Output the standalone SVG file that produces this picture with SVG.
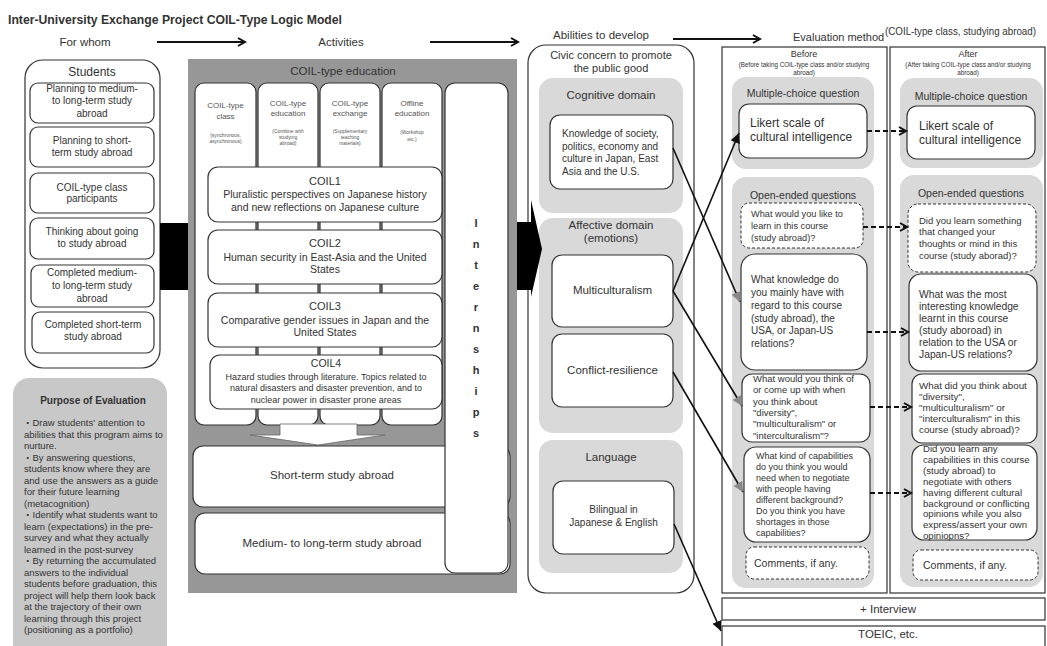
<svg xmlns="http://www.w3.org/2000/svg" width="1047" height="646" viewBox="0 0 1047 646">
<defs>
<style>
text{font-family:"Liberation Sans","Noto Sans CJK JP",sans-serif;fill:#333}
.c{text-anchor:middle}
.box{fill:#fff;stroke:#333;stroke-width:1.2}
.dbox{fill:#fff;stroke:#333;stroke-width:1;stroke-dasharray:3 2}
.lg{fill:#d9d9d9}
.col{font-size:8px;fill:#555}
.sm{font-size:4.9px;fill:#555}
.ct{font-size:11px}
.cb{font-size:10.5px}
.conn{stroke:#111;stroke-width:1.6;fill:none}
.dash{stroke:#111;stroke-width:2;fill:none;stroke-dasharray:5 3}
.top{stroke:#111;stroke-width:2;fill:none}
</style>
<marker id="chev" markerUnits="userSpaceOnUse" markerWidth="12" markerHeight="12" refX="8" refY="5" orient="auto">
<path d="M1,1 L8,5 L1,9" fill="none" stroke="#111" stroke-width="2"/>
</marker>
<marker id="tri" markerUnits="userSpaceOnUse" markerWidth="12" markerHeight="12" refX="10" refY="5" orient="auto">
<path d="M0,0 L10,5 L0,10 z" fill="#111"/>
</marker>
<marker id="trig" markerUnits="userSpaceOnUse" markerWidth="12" markerHeight="12" refX="10" refY="5" orient="auto">
<path d="M0,0 L10,5 L0,10 z" fill="#888"/>
</marker>
</defs>
<rect width="1047" height="646" fill="#fff"/>

<g id="headers">
<text x="8" y="24" font-size="13" font-weight="bold" fill="#222" textLength="334" lengthAdjust="spacingAndGlyphs">Inter-University Exchange Project COIL-Type Logic Model</text>
<text x="85" y="46" class="c" font-size="11.5">For whom</text>
<text x="341" y="46" class="c" font-size="11.5">Activities</text>
<text x="601" y="39" class="c" font-size="11.5">Abilities to develop</text>
<text x="793" y="41" font-size="11">Evaluation method</text>
<text x="885" y="35" font-size="10.5" textLength="151" lengthAdjust="spacingAndGlyphs">(COIL-type class, studying abroad)</text>
</g>

<g id="students">
<rect x="25" y="60" width="135" height="308" rx="18" class="box"/>
<text x="92" y="76" class="c" font-size="12">Students</text>
<rect x="30" y="83" width="124" height="40" rx="8" class="box"/>
<text class="c" font-size="10"><tspan x="92" y="92">Planning to medium-</tspan><tspan x="92" y="104">to long-term study</tspan><tspan x="92" y="117">abroad</tspan></text>
<rect x="30" y="127" width="124" height="40" rx="8" class="box"/>
<text class="c" font-size="10"><tspan x="92" y="144">Planning to short-</tspan><tspan x="92" y="156">term study abroad</tspan></text>
<rect x="30" y="173" width="124" height="40" rx="8" class="box"/>
<text class="c" font-size="10"><tspan x="92" y="190.5">COIL-type class</tspan><tspan x="92" y="202">participants</tspan></text>
<rect x="30" y="218" width="124" height="41" rx="8" class="box"/>
<text class="c" font-size="10"><tspan x="92" y="235">Thinking about going</tspan><tspan x="92" y="247">to study abroad</tspan></text>
<rect x="31" y="265" width="123" height="42" rx="8" class="box"/>
<text class="c" font-size="10"><tspan x="92" y="276">Completed medium-</tspan><tspan x="92" y="289">to long-term study</tspan><tspan x="92" y="302">abroad</tspan></text>
<rect x="32" y="312" width="122" height="41" rx="8" class="box"/>
<text class="c" font-size="10"><tspan x="93" y="328">Completed short-term</tspan><tspan x="93" y="340">study abroad</tspan></text>
</g>

<g id="purpose">
<rect x="13" y="378" width="154" height="290" rx="16" fill="#c8c8c8"/>
<text x="93" y="404" class="c" font-size="10" font-weight="bold" fill="#222">Purpose of Evaluation</text>
<text font-size="9.5" fill="#444">
<tspan x="23" y="426">・Draw students' attention to</tspan>
<tspan x="24" y="437.5">abilities that this program aims to</tspan>
<tspan x="24" y="449">nurture.</tspan>
<tspan x="23" y="460.5">・By answering questions,</tspan>
<tspan x="24" y="472">students know where they are</tspan>
<tspan x="24" y="483.5">and use the answers as a guide</tspan>
<tspan x="24" y="495">for their future learning</tspan>
<tspan x="24" y="506.5">(metacognition)</tspan>
<tspan x="23" y="518">・Identify what students want to</tspan>
<tspan x="24" y="529.5">learn (expectations) in the pre-</tspan>
<tspan x="24" y="541">survey and what they actually</tspan>
<tspan x="24" y="552.5">learned in the post-survey</tspan>
<tspan x="23" y="564">・By returning the accumulated</tspan>
<tspan x="24" y="575.5">answers to the individual</tspan>
<tspan x="24" y="587">students before graduation, this</tspan>
<tspan x="24" y="598.5">project will help them look back</tspan>
<tspan x="24" y="610">at the trajectory of their own</tspan>
<tspan x="24" y="621.5">learning through this project</tspan>
<tspan x="24" y="633">(positioning as a portfolio)</tspan>
</text>
</g>

<g id="arrow-in">
<rect x="160" y="223" width="30" height="67" fill="#000"/>
</g>

<g id="coil-education">
<rect x="188" y="59" width="329" height="534" fill="#979797"/>
<text x="343" y="75" class="c" font-size="11.5" fill="#222">COIL-type education</text>
<rect x="195" y="83" width="61" height="342" rx="9" class="box"/>
<rect x="258" y="83" width="60" height="342" rx="9" class="box"/>
<rect x="320" y="83" width="60" height="342" rx="9" class="box"/>
<rect x="382" y="83" width="60" height="342" rx="9" class="box"/>
<text class="c col"><tspan x="225.5" y="108">COIL-type</tspan><tspan x="225.5" y="119">class</tspan></text>
<text class="c sm"><tspan x="225.5" y="137">(synchronous,</tspan><tspan x="225.5" y="142.5">asynchronous)</tspan></text>
<text class="c col"><tspan x="288" y="106">COIL-type</tspan><tspan x="288" y="116">education</tspan></text>
<text class="c sm"><tspan x="288" y="133">(Combine with</tspan><tspan x="288" y="139">studying</tspan><tspan x="288" y="145">abroad)</tspan></text>
<text class="c col"><tspan x="350" y="106">COIL-type</tspan><tspan x="350" y="116">exchange</tspan></text>
<text class="c sm"><tspan x="350" y="133">(Supplementary</tspan><tspan x="350" y="139">teaching</tspan><tspan x="350" y="145">materials)</tspan></text>
<text class="c col"><tspan x="412" y="106">Offline</tspan><tspan x="412" y="116">education</tspan></text>
<text class="c sm" font-size="5.8"><tspan x="412" y="134">(Workshop</tspan><tspan x="412" y="141">etc.)</tspan></text>
</g>

<g id="coil1">
<rect x="208" y="167" width="234" height="55" rx="10" class="box"/>
<text x="325" y="185" class="c ct">COIL1</text>
<text class="c cb"><tspan x="325" y="198">Pluralistic perspectives on Japanese history</tspan><tspan x="325" y="211">and new reflections on Japanese culture</tspan></text>
</g>
<g id="coil2">
<rect x="208" y="230" width="234" height="54" rx="10" class="box"/>
<text x="325" y="247" class="c ct">COIL2</text>
<text class="c cb"><tspan x="325" y="261">Human security in East-Asia and the United</tspan><tspan x="325" y="273">States</tspan></text>
</g>
<g id="coil3">
<rect x="208" y="293" width="234" height="54" rx="10" class="box"/>
<text x="325" y="310" class="c ct">COIL3</text>
<text class="c cb"><tspan x="325" y="324">Comparative gender issues in Japan and the</tspan><tspan x="325" y="336">United States</tspan></text>
</g>
<g id="coil4">
<rect x="210" y="355" width="232" height="54" rx="10" class="box"/>
<text x="326" y="367" class="c" font-size="10.5">COIL4</text>
<text class="c" font-size="9"><tspan x="326" y="379.5">Hazard studies through literature. Topics related to</tspan><tspan x="326" y="391">natural disasters and disaster prevention, and to</tspan><tspan x="326" y="402.5">nuclear power in disaster prone areas</tspan></text>
</g>

<g id="down-arrow">
<polygon points="280,424 357,424 357,435 385,435 318,445 250,435 280,435" fill="#fff" stroke="#666" stroke-width="0.8"/>
</g>

<g id="short-term">
<rect x="193" y="446" width="317" height="61" rx="10" class="box"/>
<text x="332" y="479" class="c" font-size="11.5">Short-term study abroad</text>
</g>
<g id="medium-long">
<rect x="195" y="513" width="315" height="61" rx="10" class="box"/>
<text x="332" y="547" class="c" font-size="11.5">Medium- to long-term study abroad</text>
</g>

<g id="internships">
<rect x="445" y="83" width="63" height="490" rx="10" class="box"/>
<g font-size="11" font-weight="bold" fill="#222" text-anchor="middle">
<text x="476" y="227">I</text><text x="476" y="248">n</text><text x="476" y="269">t</text><text x="476" y="290">e</text><text x="476" y="311">r</text><text x="476" y="332">n</text><text x="476" y="353">s</text><text x="476" y="374">h</text><text x="476" y="395">i</text><text x="476" y="416">p</text><text x="476" y="437">s</text>
</g>
</g>

<g id="abilities">
<rect x="528" y="45" width="166" height="548" rx="18" class="box"/>
<text class="c" font-size="11"><tspan x="611" y="59">Civic concern to promote</tspan><tspan x="611" y="72">the public good</tspan></text>
</g>
<g id="cognitive">
<rect x="539" y="78" width="144" height="135" rx="14" class="lg"/>
<text x="611" y="99" class="c" font-size="11.5">Cognitive domain</text>
<rect x="550" y="115" width="123" height="74" rx="10" class="box"/>
<text font-size="10"><tspan x="562" y="137">Knowledge of society,</tspan><tspan x="562" y="149.5">politics, economy and</tspan><tspan x="562" y="162">culture in Japan, East</tspan><tspan x="562" y="174.5">Asia and the U.S.</tspan></text>
</g>
<g id="affective">
<rect x="539" y="218" width="144" height="215" rx="14" class="lg"/>
<text class="c" font-size="11.5"><tspan x="611" y="229">Affective domain</tspan><tspan x="611" y="242">(emotions)</tspan></text>
<rect x="552" y="255" width="121" height="72" rx="10" class="box"/>
<text x="612.5" y="294" class="c" font-size="11.5">Multiculturalism</text>
<rect x="552" y="334" width="121" height="73" rx="10" class="box"/>
<text x="612.5" y="374" class="c" font-size="11.5">Conflict-resilience</text>
</g>
<g id="language">
<rect x="539" y="440" width="144" height="133" rx="14" class="lg"/>
<text x="611" y="461" class="c" font-size="11.5">Language</text>
<rect x="553" y="481" width="121" height="73" rx="10" class="box"/>
<text class="c" font-size="10"><tspan x="613.5" y="513">Bilingual in</tspan><tspan x="613.5" y="526">Japanese &amp; English</tspan></text>
</g>

<g id="arrow-out">
<polygon points="517,222 531,222 531,200 542,249 531,297 531,290 517,290" fill="#000"/>
</g>

<g id="before">
<rect x="722" y="47" width="165" height="546" fill="none" stroke="#333" stroke-width="1.2"/>
<text x="804" y="57" class="c" font-size="9">Before</text>
<text class="c" font-size="6.3"><tspan x="804" y="66.5">(Before taking COIL-type class and/or studying</tspan><tspan x="804" y="75">abroad)</tspan></text>
<rect x="732" y="77" width="142" height="92" rx="14" class="lg"/>
<text x="803" y="97" class="c" font-size="10.5">Multiple-choice question</text>
<rect x="732" y="177" width="142" height="411" rx="14" class="lg"/>
<text x="803" y="199" class="c" font-size="10.5">Open-ended questions</text>
</g>
<g id="b-likert">
<rect x="739" y="104" width="128" height="54" rx="10" class="box" stroke-width="1.5"/>
<text font-size="12"><tspan x="750" y="127">Likert scale of</tspan><tspan x="750" y="141">cultural intelligence</tspan></text>
</g>
<g id="b-q1">
<rect x="741" y="203" width="122" height="45" rx="8" class="dbox"/>
<text font-size="9.2"><tspan x="751" y="216.5">What would you like to</tspan><tspan x="751" y="228.5">learn in this course</tspan><tspan x="751" y="240.5">(study abroad)?</tspan></text>
</g>
<g id="b-q2">
<rect x="741" y="254" width="126" height="116" rx="14" class="box"/>
<text font-size="10"><tspan x="751" y="282.5">What knowledge do</tspan><tspan x="751" y="295.5">you mainly have with</tspan><tspan x="751" y="308.5">regard to this course</tspan><tspan x="751" y="321.5">(study abroad), the</tspan><tspan x="751" y="334">USA, or Japan-US</tspan><tspan x="751" y="346.5">relations?</tspan></text>
</g>
<g id="b-q3">
<rect x="742" y="374" width="128" height="68" rx="10" class="box"/>
<text font-size="9.5"><tspan x="753" y="382">What would you think of</tspan><tspan x="753" y="393.3">or come up with when</tspan><tspan x="753" y="404.6">you think about</tspan><tspan x="753" y="415.9">"diversity",</tspan><tspan x="753" y="427.2">"multiculturalism" or</tspan><tspan x="753" y="438.5">"interculturalism"?</tspan></text>
</g>
<g id="b-q4">
<rect x="744" y="447" width="126" height="95" rx="12" class="box"/>
<text font-size="9"><tspan x="756" y="459">What kind of capabilities</tspan><tspan x="756" y="470">do you think you would</tspan><tspan x="756" y="481">need when to negotiate</tspan><tspan x="756" y="492">with people having</tspan><tspan x="756" y="503">different background?</tspan><tspan x="756" y="514">Do you think you have</tspan><tspan x="756" y="525">shortages in those</tspan><tspan x="756" y="536">capabilities?</tspan></text>
</g>
<g id="b-comments">
<rect x="746" y="547" width="123" height="32" rx="8" class="dbox"/>
<text x="754" y="567" font-size="10.5">Comments, if any.</text>
</g>

<g id="after">
<rect x="890" y="47" width="155" height="546" fill="none" stroke="#333" stroke-width="1.2"/>
<text x="968" y="57" class="c" font-size="9">After</text>
<text class="c" font-size="6.3"><tspan x="968" y="66.5">(After taking COIL-type class and/or studying</tspan><tspan x="968" y="75">abroad)</tspan></text>
<rect x="900" y="78" width="143" height="90" rx="14" class="lg"/>
<text x="971" y="100" class="c" font-size="10.5">Multiple-choice question</text>
<rect x="900" y="175" width="143" height="412" rx="14" class="lg"/>
<text x="971" y="197" class="c" font-size="10.5">Open-ended questions</text>
</g>
<g id="a-likert">
<rect x="907" y="106" width="128" height="53" rx="10" class="box" stroke-width="1.5"/>
<text font-size="12"><tspan x="919" y="130">Likert scale of</tspan><tspan x="919" y="144">cultural intelligence</tspan></text>
</g>
<g id="a-q1">
<rect x="908" y="204" width="128" height="68" rx="10" class="dbox"/>
<text font-size="9.5"><tspan x="919" y="223.5">Did you learn something</tspan><tspan x="919" y="235.2">that changed your</tspan><tspan x="919" y="246.9">thoughts or mind in this</tspan><tspan x="919" y="258.6">course (study aborad)?</tspan></text>
</g>
<g id="a-q2">
<rect x="909" y="274" width="128" height="97" rx="12" class="box"/>
<text font-size="10.3"><tspan x="919" y="298">What was the most</tspan><tspan x="919" y="310">interesting knowledge</tspan><tspan x="919" y="322">learnt in this course</tspan><tspan x="919" y="334">(study aboroad) in</tspan><tspan x="919" y="346">relation to the USA or</tspan><tspan x="919" y="358">Japan-US relations?</tspan></text>
</g>
<g id="a-q3">
<rect x="912" y="374" width="125" height="69" rx="10" class="box"/>
<text font-size="9.8"><tspan x="919" y="388.5">What did you think about</tspan><tspan x="919" y="399.7">"diversity",</tspan><tspan x="919" y="410.9">"multiculturalism" or</tspan><tspan x="919" y="422.1">"interculturalism" in this</tspan><tspan x="919" y="433.3">course (study abroad)?</tspan></text>
</g>
<g id="a-q4">
<rect x="912" y="445" width="125" height="95" rx="12" class="box"/>
<text font-size="9.6"><tspan x="923" y="452">Did you learn any</tspan><tspan x="923" y="462.9">capabilities in this course</tspan><tspan x="923" y="473.8">(study abroad) to</tspan><tspan x="923" y="484.7">negotiate with others</tspan><tspan x="923" y="495.6">having different cultural</tspan><tspan x="923" y="506.5">background or conflicting</tspan><tspan x="923" y="517.4">opinions while you also</tspan><tspan x="923" y="528.3">express/assert your own</tspan><tspan x="923" y="539.2">opiniopns?</tspan></text>
</g>
<g id="a-comments">
<rect x="913" y="550" width="125" height="30" rx="8" class="dbox"/>
<text x="923" y="569" font-size="10.5">Comments, if any.</text>
</g>

<g id="interview">
<rect x="722" y="598" width="323" height="22" fill="#fff" stroke="#333" stroke-width="1.2"/>
<text x="888" y="613" class="c" font-size="11.5">+ Interview</text>
</g>
<g id="toeic">
<rect x="722" y="626" width="323" height="30" fill="#fff" stroke="#333" stroke-width="1.2"/>
<text x="888" y="638" class="c" font-size="11.5">TOEIC, etc.</text>
</g>

<g id="connectors">
<line x1="157" y1="42" x2="245" y2="42" class="top" marker-end="url(#chev)"/>
<line x1="430" y1="42" x2="518" y2="42" class="top" marker-end="url(#chev)"/>
<line x1="673" y1="39" x2="760" y2="39" class="top" marker-end="url(#chev)"/>
<line x1="673" y1="148" x2="740" y2="302" class="conn" marker-end="url(#trig)"/>
<line x1="673" y1="291" x2="739" y2="133" class="conn" marker-end="url(#tri)"/>
<line x1="673" y1="291" x2="742" y2="406" class="conn" marker-end="url(#trig)"/>
<line x1="673" y1="372" x2="743" y2="492" class="conn" marker-end="url(#trig)"/>
<line x1="674" y1="524" x2="721" y2="631" class="conn" marker-end="url(#tri)"/>
<line x1="867" y1="131" x2="906" y2="131" class="dash" marker-end="url(#chev)"/>
<line x1="863" y1="227" x2="907" y2="227" class="dash" marker-end="url(#chev)"/>
<line x1="867" y1="332" x2="908" y2="332" class="dash" marker-end="url(#chev)"/>
<line x1="870" y1="407" x2="911" y2="407" class="dash" marker-end="url(#chev)"/>
<line x1="870" y1="493" x2="911" y2="493" class="dash" marker-end="url(#chev)"/>
</g>
</svg>
